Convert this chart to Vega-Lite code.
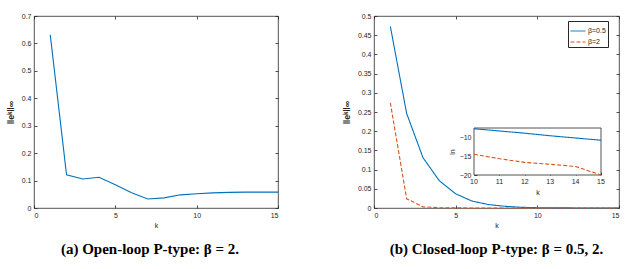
{
  "$schema": "https://vega.github.io/schema/vega-lite/v6.json",
  "background": "white",
  "padding": {"left": 5, "top": 11, "right": 14, "bottom": 5},
  "bounds": "flush",
  "spacing": 96,
  "config": {
    "view": {"stroke": "#262626", "strokeWidth": 0.8},
    "axis": {
      "labelFont": "Liberation Sans", "labelFontSize": 7, "labelColor": "#262626",
      "titleFont": "Liberation Sans", "titleFontSize": 7, "titleFontWeight": "normal", "titleColor": "#262626",
      "domain": false, "tickColor": "#262626", "tickSize": -3, "tickWidth": 0.8, "labelPadding": 6, "grid": false, "labelOverlap": false
    },
    "legend": {
      "labelFont": "Liberation Sans", "labelFontSize": 7, "labelColor": "#262626",
      "strokeColor": "#262626", "fillColor": "white", "padding": 2, "rowPadding": 0,
      "symbolType": "stroke", "symbolSize": 225, "symbolStrokeWidth": 1, "labelOffset": 2
    },
    "title": {"font": "Liberation Serif", "fontSize": 15, "fontWeight": "bold", "color": "black", "orient": "bottom", "offset": 14}
  },
  "datasets": {
    "open": [
      {"k": 1, "e": 0.631}, {"k": 2, "e": 0.121}, {"k": 3, "e": 0.106}, {"k": 4, "e": 0.112},
      {"k": 5, "e": 0.085}, {"k": 6, "e": 0.056}, {"k": 7, "e": 0.033}, {"k": 8, "e": 0.037},
      {"k": 9, "e": 0.048}, {"k": 10, "e": 0.052}, {"k": 11, "e": 0.055}, {"k": 12, "e": 0.057},
      {"k": 13, "e": 0.058}, {"k": 14, "e": 0.058}, {"k": 15, "e": 0.058}
    ],
    "closed": [
      {"k": 1, "beta": "β=0.5", "e": 0.473}, {"k": 2, "beta": "β=0.5", "e": 0.246},
      {"k": 3, "beta": "β=0.5", "e": 0.131}, {"k": 4, "beta": "β=0.5", "e": 0.071},
      {"k": 5, "beta": "β=0.5", "e": 0.037}, {"k": 6, "beta": "β=0.5", "e": 0.018},
      {"k": 7, "beta": "β=0.5", "e": 0.009}, {"k": 8, "beta": "β=0.5", "e": 0.0045},
      {"k": 9, "beta": "β=0.5", "e": 0.0018}, {"k": 10, "beta": "β=0.5", "e": 0.0008},
      {"k": 11, "beta": "β=0.5", "e": 0.0004}, {"k": 12, "beta": "β=0.5", "e": 0.0002},
      {"k": 13, "beta": "β=0.5", "e": 0.0001}, {"k": 14, "beta": "β=0.5", "e": 0.00005},
      {"k": 15, "beta": "β=0.5", "e": 0.000025},
      {"k": 1, "beta": "β=2", "e": 0.274}, {"k": 2, "beta": "β=2", "e": 0.024},
      {"k": 3, "beta": "β=2", "e": 0.003}, {"k": 4, "beta": "β=2", "e": 0.0008},
      {"k": 5, "beta": "β=2", "e": 0.0003}, {"k": 6, "beta": "β=2", "e": 0.0001},
      {"k": 7, "beta": "β=2", "e": 0.00005}, {"k": 8, "beta": "β=2", "e": 0.00002},
      {"k": 9, "beta": "β=2", "e": 0.00001}, {"k": 10, "beta": "β=2", "e": 0.000001},
      {"k": 11, "beta": "β=2", "e": 0.0000002}, {"k": 12, "beta": "β=2", "e": 0.0000001},
      {"k": 13, "beta": "β=2", "e": 0.00000003}, {"k": 14, "beta": "β=2", "e": 0.00000002},
      {"k": 15, "beta": "β=2", "e": 0.000000002}
    ],
    "inset": [
      {"k": 10, "beta": "β=0.5", "ln": -7.5}, {"k": 11, "beta": "β=0.5", "ln": -8.1},
      {"k": 12, "beta": "β=0.5", "ln": -8.7}, {"k": 13, "beta": "β=0.5", "ln": -9.4},
      {"k": 14, "beta": "β=0.5", "ln": -10.0}, {"k": 15, "beta": "β=0.5", "ln": -10.6},
      {"k": 10, "beta": "β=2", "ln": -14.4}, {"k": 11, "beta": "β=2", "ln": -15.6},
      {"k": 12, "beta": "β=2", "ln": -16.6}, {"k": 13, "beta": "β=2", "ln": -17.1},
      {"k": 14, "beta": "β=2", "ln": -17.7}, {"k": 15, "beta": "β=2", "ln": -20.0}
    ],
    "frame": [{"k0": 10, "k1": 15, "l0": -20, "l1": -7.3}],
    "insetTicks": [{"t": 10}, {"t": 11}, {"t": 12}, {"t": 13}, {"t": 14}, {"t": 15}]
  },
  "hconcat": [
    {
      "width": 244,
      "height": 192,
      "title": {"text": "(a)  Open-loop P-type: β = 2.", "dx": -6},
      "data": {"name": "open"},
      "layer": [
        {
          "mark": {"type": "line", "color": "#0072BD", "strokeWidth": 1.1},
          "encoding": {
            "x": {"field": "k", "type": "quantitative", "scale": {"domain": [0, 15], "nice": false},
                  "axis": {"values": [0, 5, 10, 15], "title": "k", "titlePadding": 3}},
            "y": {"field": "e", "type": "quantitative", "scale": {"domain": [0, 0.7], "nice": false},
                  "axis": {"values": [0, 0.1, 0.2, 0.3, 0.4, 0.5, 0.6, 0.7], "format": ".1~f", "title": "‖eᵏ‖∞", "titleFontSize": 9, "titleFontWeight": "bold", "titlePadding": 6}}
          }
        },
        {
          "mark": {"type": "line", "opacity": 0},
          "encoding": {
            "x": {"field": "k", "type": "quantitative", "axis": {"orient": "top", "values": [0, 5, 10, 15], "labels": false, "title": null}},
            "y": {"field": "e", "type": "quantitative", "axis": {"orient": "right", "values": [0, 0.1, 0.2, 0.3, 0.4, 0.5, 0.6, 0.7], "labels": false, "title": null}}
          }
        }
      ],
      "resolve": {"axis": {"x": "independent", "y": "independent"}}
    },
    {
      "width": 245,
      "height": 192,
      "title": {"text": "(b)  Closed-loop P-type: β = 0.5, 2.", "dx": 0},
      "layer": [
        {
          "data": {"name": "closed"},
          "layer": [
            {
              "mark": {"type": "line", "strokeWidth": 1.1},
              "encoding": {
                "x": {"field": "k", "type": "quantitative", "scale": {"domain": [0, 15], "nice": false},
                      "axis": {"values": [0, 5, 10, 15], "title": "k", "titlePadding": 3}},
                "y": {"field": "e", "type": "quantitative", "scale": {"domain": [0, 0.5], "nice": false},
                      "axis": {"values": [0, 0.05, 0.1, 0.15, 0.2, 0.25, 0.3, 0.35, 0.4, 0.45, 0.5], "format": ".2~f", "title": "‖eᵏ‖∞", "titleFontSize": 9, "titleFontWeight": "bold", "titlePadding": 6}},
                "color": {"field": "beta", "type": "nominal", "scale": {"domain": ["β=0.5", "β=2"], "range": ["#0072BD", "#D95319"]},
                          "legend": {"title": null, "orient": "none", "legendX": 534, "legendY": 5}},
                "strokeDash": {"field": "beta", "type": "nominal", "scale": {"domain": ["β=0.5", "β=2"], "range": [[1, 0], [4, 2]]},
                               "legend": {"title": null, "orient": "none", "legendX": 534, "legendY": 5}}
              }
            },
            {
              "mark": {"type": "line", "opacity": 0},
              "encoding": {
                "x": {"field": "k", "type": "quantitative", "axis": {"orient": "top", "values": [0, 5, 10, 15], "labels": false, "title": null}},
                "y": {"field": "e", "type": "quantitative", "axis": {"orient": "right", "values": [0, 0.05, 0.1, 0.15, 0.2, 0.25, 0.3, 0.35, 0.4, 0.45, 0.5], "labels": false, "title": null}}
              }
            }
          ],
          "resolve": {"axis": {"x": "independent", "y": "independent"}}
        },
        {
          "layer": [
            {
              "data": {"name": "frame"},
              "mark": {"type": "rect", "fill": "white", "stroke": "#262626", "strokeWidth": 0.8},
              "encoding": {
                "x": {"field": "k0", "type": "quantitative", "scale": {"domain": [10, 15], "nice": false, "zero": false, "range": [100, 227]},
                      "axis": {"orient": "bottom", "offset": -33, "values": [10, 11, 12, 13, 14, 15], "labels": false, "title": "k", "titlePadding": 13}},
                "x2": {"field": "k1"},
                "y": {"field": "l0", "type": "quantitative", "scale": {"domain": [-20, -7.3], "nice": false, "zero": false, "range": [159, 112]},
                      "axis": {"orient": "left", "offset": -100, "values": [-20, -15, -10], "title": "ln", "titlePadding": 4}},
                "y2": {"field": "l1"}
              }
            },
            {
              "data": {"name": "inset"},
              "mark": {"type": "line", "strokeWidth": 1.1},
              "encoding": {
                "x": {"field": "k", "type": "quantitative"},
                "y": {"field": "ln", "type": "quantitative"},
                "color": {"field": "beta", "type": "nominal", "legend": null},
                "strokeDash": {"field": "beta", "type": "nominal", "legend": null}
              }
            },
            {
              "data": {"name": "insetTicks"},
              "mark": {"type": "text", "font": "Liberation Sans", "fontSize": 7, "color": "#262626", "baseline": "top", "align": "center", "dy": 3},
              "encoding": {
                "x": {"field": "t", "type": "quantitative"},
                "y": {"datum": -20, "type": "quantitative"},
                "text": {"field": "t", "type": "quantitative", "format": "d"}
              }
            }
          ]
        }
      ],
      "resolve": {"scale": {"x": "independent", "y": "independent"}}
    }
  ]
}
